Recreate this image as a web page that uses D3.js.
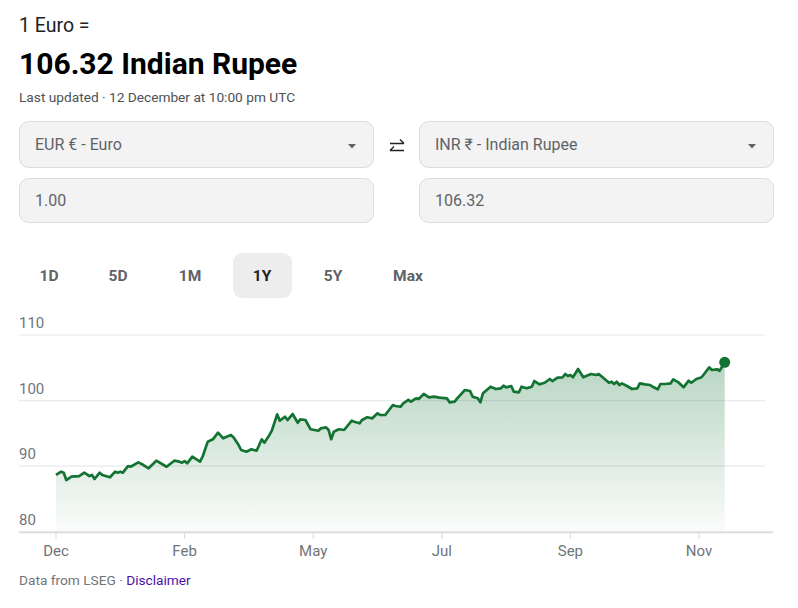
<!DOCTYPE html>
<html><head><meta charset="utf-8">
<script src="https://cdn.jsdelivr.net/npm/d3@7"></script>
<style>body{margin:0;background:#fff;font-family:Roboto,"Noto Sans",sans-serif;}svg{display:block}</style>
</head><body>
<svg id="c" width="798" height="608"></svg>
<script>
const tradingDays = [0,2,3,4,6,9,11,13,14,15,17,18,21,23,24,25,26,28,29,32,34,36,39,43,46,48,49,50,51,53,56,57,59,61,63,65,68,
69,71,72,74,76,78,80,81,83,84,86,87,89,90,92,94,95,97,99,102,103,105,106,107,108,110,112,115,116,118,119,121,123,125,126,128,131,132,134,
135,137,138,140,141,143,145,147,149,152,153,155,156,159,161,162,164,165,166,169,171,173,174,175,177,178,180,181,183,185,186,188,190,192,193,195,197,198,199,
200,201,203,205,208,210,211,213,215,216,217,218,219,220,222,224,226,227,229,231,232,234,235,237,239,240,242,244,246,247,249,251,252,254,255,257,258,260];
const rates = [88.65,89.15,89.0,87.88,88.39,88.49,89.0,88.49,88.65,88.04,89.0,88.65,88.30,89.15,89.0,89.15,89.0,90.02,89.91,90.58,90.17,89.67,90.83,89.91,90.83,90.68,90.52,90.78,90.43,91.44,90.68,91.44,93.73,94.09,95.10,94.24,94.75,
94.40,93.22,92.46,92.20,92.57,92.35,94.09,93.57,94.75,95.51,97.90,96.93,97.54,97.03,97.95,96.62,97.14,97.04,95.62,95.40,95.77,95.92,95.51,94.09,95.25,95.62,95.51,96.93,96.78,96.53,97.03,97.45,97.29,98.06,97.80,97.80,99.32,99.17,99.06,
99.58,100.09,99.83,100.34,100.24,101.0,100.50,100.59,100.44,100.34,99.73,99.83,100.34,101.61,101.46,100.59,100.34,99.73,101.11,102.11,101.76,101.87,102.27,102.02,102.22,101.35,101.26,102.11,101.87,102.11,102.98,102.48,102.72,103.29,102.98,103.49,103.55,104.05,103.75,
103.90,103.55,104.81,103.55,104.05,103.90,104.05,103.39,102.72,102.88,102.53,102.88,102.37,102.63,102.22,101.76,101.87,102.63,102.48,102.37,102.11,101.72,102.53,102.53,102.63,103.24,102.78,102.02,103.03,102.72,103.29,103.55,104.05,105.07,104.66,104.77,104.55,105.83];
const xTickLabels = ["Dec","Feb","May","Jul","Sep","Nov"];
const xTickDays = [0,50,100,150,200,250];
const yTicks = [80,90,100,110];
const rangeButtons = ["1D","5D","1M","1Y","5Y","Max"];
const selectedRange = "1Y";

const svg = d3.select("#c");
const FONT = "Roboto, 'Noto Sans', sans-serif";

// header
svg.append("text").attr("x",19).attr("y",32).attr("font-size",19.5).attr("fill","#202124").attr("font-family",FONT).text("1 Euro =");
svg.append("text").attr("x",19).attr("y",74).attr("font-size",30).attr("font-weight",700).attr("fill","#000").attr("font-family",FONT).text("106.32 Indian Rupee");
svg.append("text").attr("x",19).attr("y",102).attr("font-size",13.7).attr("fill","#4d5156").attr("font-family",FONT).text("Last updated · 12 December at 10:00 pm UTC");

// input boxes
const boxes = [
  {x:19,y:121,w:354,h:46,t:"EUR € - Euro",dd:true},
  {x:419,y:121,w:354,h:46,t:"INR ₹ - Indian Rupee",dd:true},
  {x:19,y:178,w:354,h:44,t:"1.00",dd:false},
  {x:419,y:178,w:354,h:44,t:"106.32",dd:false}
];
boxes.forEach(b=>{
  svg.append("rect").attr("x",b.x+0.5).attr("y",b.y+0.5).attr("width",b.w).attr("height",b.h).attr("rx",9)
    .attr("fill","#f3f3f3").attr("stroke","#dadce0");
  svg.append("text").attr("x",b.x+16).attr("y",b.y+b.h/2+5.5).attr("font-size",16).attr("fill","#5f6368").attr("font-family",FONT).text(b.t);
  if(b.dd){
    const cx=b.x+b.w-21, cy=b.y+b.h/2+2;
    svg.append("path").attr("d",`M${cx-4},${cy-2}L${cx+4},${cy-2}L${cx},${cy+2.5}Z`).attr("fill","#5f6368");
  }
});
// swap icon
svg.append("path").attr("d","M390,143.5H404M400,139.5L404,143.5M404,150.5H390M394,146.5L390,150.5")
  .attr("stroke","#202124").attr("stroke-width",1.4).attr("fill","none");

// range buttons
const btnX = [49,118,190,262,333,408];
rangeButtons.forEach((r,i)=>{
  if(r===selectedRange){
    svg.append("rect").attr("x",btnX[i]-29).attr("y",253).attr("width",59).attr("height",45).attr("rx",9).attr("fill","#ededed");
  }
  svg.append("text").attr("x",btnX[i]).attr("y",281).attr("text-anchor","middle").attr("font-size",15.5).attr("font-weight",700)
    .attr("fill", r===selectedRange?"#202124":"#5f6368").attr("font-family",FONT).text(r);
});

// chart
const x = d3.scaleLinear().domain([0,260]).range([56,724.7]);
const y = d3.scaleLinear().domain([80,110]).range([531.7,335]);
const data = tradingDays.map((d,i)=>({d, v:rates[i]}));

// gridlines
svg.append("g").selectAll("line").data(yTicks.filter(t=>t>80)).join("line")
  .attr("x1",19).attr("x2",765).attr("y1",d=>y(d)).attr("y2",d=>y(d)).attr("stroke","#e8eaed").attr("stroke-width",1.2);
svg.append("g").selectAll("text").data(yTicks).join("text")
  .attr("x",19).attr("y",d=>y(d)-7).attr("font-size",15).attr("fill","#70757a").attr("font-family",FONT).text(d=>d);

// area gradient
const defs = svg.append("defs");
const grad = defs.append("linearGradient").attr("id","g1").attr("x1",0).attr("x2",0)
  .attr("gradientUnits","userSpaceOnUse").attr("y1",y(106)).attr("y2",y(80));
grad.append("stop").attr("offset",0).attr("stop-color","#137333").attr("stop-opacity",0.3);
grad.append("stop").attr("offset",1).attr("stop-color","#137333").attr("stop-opacity",0.02);

svg.append("path").datum(data)
  .attr("d", d3.area().x(d=>x(d.d)).y0(y(80)).y1(d=>y(d.v)))
  .attr("fill","url(#g1)");
svg.append("path").datum(data)
  .attr("d", d3.line().x(d=>x(d.d)).y(d=>y(d.v)))
  .attr("fill","none").attr("stroke","#137333").attr("stroke-width",2.7).attr("stroke-linejoin","round");
const last = data[data.length-1];
svg.append("circle").attr("cx",x(last.d)).attr("cy",y(last.v)).attr("r",5.5).attr("fill","#137333");

// x axis
svg.append("line").attr("x1",19).attr("x2",773).attr("y1",y(80)+0.5).attr("y2",y(80)+0.5).attr("stroke","#dadce0").attr("stroke-width",2);
const xa = svg.append("g");
xTickDays.forEach((t,i)=>{
  xa.append("line").attr("x1",x(t)).attr("x2",x(t)).attr("y1",y(80)+1).attr("y2",y(80)+7).attr("stroke","#dadce0").attr("stroke-width",1.2);
  xa.append("text").attr("x",x(t)).attr("y",556).attr("text-anchor","middle").attr("font-size",15).attr("fill","#70757a").attr("font-family",FONT).text(xTickLabels[i]);
});

// footer
const ft = svg.append("text").attr("x",19).attr("y",585).attr("font-size",13.7).attr("font-family",FONT);
ft.append("tspan").attr("fill","#70757a").text("Data from LSEG · ");
ft.append("tspan").attr("fill","#4b11a8").text("Disclaimer");
</script>
</body></html>
